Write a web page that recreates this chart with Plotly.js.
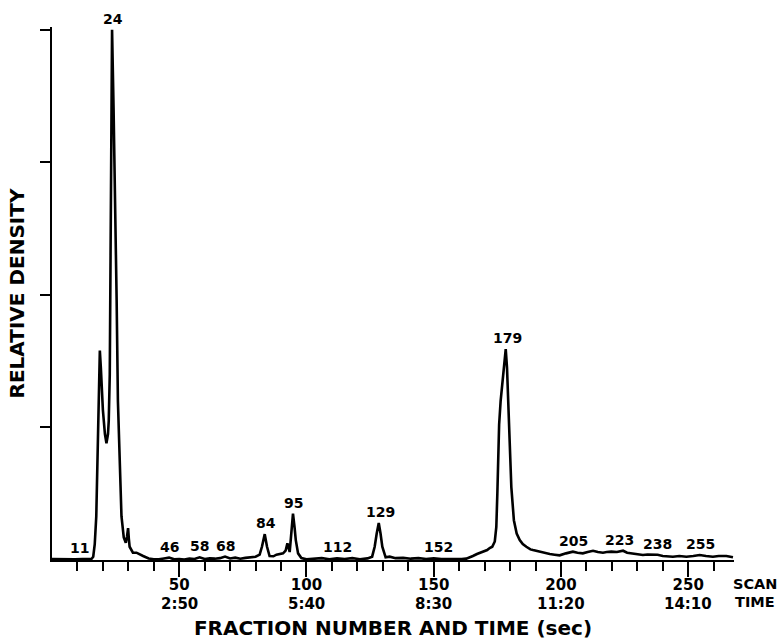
<!DOCTYPE html>
<html>
<head>
<meta charset="utf-8">
<script src="https://cdn.plot.ly/plotly-3.0.1.min.js"></script>
<style>
  html, body { margin: 0; padding: 0; background: #fff; }
  #chart { width: 782px; height: 640px; }
</style>
</head>
<body>
<div id="chart"></div>
<script>
// Scan (fraction) numbers along the trace
var scan = [0, 3, 6, 9, 12, 14, 15.5, 16.2, 16.8, 17.4, 18.1, 18.5, 18.8, 19.2, 20.0, 20.8, 21.4, 22.0, 22.3, 22.7, 23.0, 23.3, 23.6, 24.2, 24.9, 25.4, 25.9, 26.6, 27.3, 28.2, 29.0, 29.5, 29.9, 30.2, 30.5, 31.8, 33.2, 35.8, 38, 40,
  42, 44, 46, 48, 50, 52, 54, 56, 58, 60, 62, 64, 66, 68, 70, 72, 74, 76, 78.3, 80, 81.6, 82.5, 83.6, 84.5, 85.5, 87, 88.2, 90, 90.8, 91.8, 92.5, 93.4, 94.0, 94.7, 95.3, 95.8, 96.7, 98, 100,
  103, 106, 109, 112, 115, 118, 121, 124, 125.8, 126.8, 127.6, 128.4, 129.1, 129.8, 131.1, 132.7, 135, 138, 141, 144, 147, 150, 153, 156, 159, 161, 162.8, 164, 165.4, 167, 169.4, 171, 172, 173, 174, 174.6, 175, 175.7, 176.3, 177, 177.7, 178.3, 178.8, 179.2, 179.8, 180.5, 181.5, 182.6, 183.8, 185, 186.4, 188, 189, 191, 193, 195.6, 197.5, 199.5,
  202, 204.7, 206.5, 208.6, 210.5, 212.6, 214.5, 216.5, 218, 219.8, 222, 224.4, 226, 227.7, 230, 232.2, 234, 236.2, 238, 240, 242, 244, 246.5, 249.3, 252, 254.5, 257, 259.7, 262, 265, 267.6];

// Relative density
var density = [0.008, 0.006, 0.009, 0.005, 0.008, 0.006, 0.008, 0.025, 0.12, 0.33, 0.96, 1.40, 1.58, 1.45, 1.13, 0.95, 0.88, 0.95, 1.05, 1.4, 2.4, 3.2, 4.0, 3.4, 2.7, 1.96, 1.2, 0.70, 0.33, 0.17, 0.13, 0.18, 0.24, 0.16, 0.10, 0.055, 0.055, 0.03, 0.012, 0.006,
  0.005, 0.012, 0.018, 0.005, 0.008, 0.004, 0.01, 0.008, 0.02, 0.008, 0.012, 0.01, 0.014, 0.026, 0.012, 0.018, 0.01, 0.016, 0.02, 0.025, 0.04, 0.10, 0.195, 0.10, 0.03, 0.028, 0.04, 0.045, 0.05, 0.07, 0.125, 0.06, 0.2, 0.35, 0.25, 0.15, 0.05, 0.015, 0.005,
  0.01, 0.014, 0.006, 0.012, 0.008, 0.014, 0.006, 0.012, 0.025, 0.10, 0.2, 0.28, 0.2, 0.10, 0.02, 0.025, 0.014, 0.016, 0.01, 0.014, 0.008, 0.012, 0.008, 0.006, 0.005, 0.007, 0.01, 0.018, 0.03, 0.045, 0.065, 0.075, 0.09, 0.1, 0.14, 0.25, 0.5, 1.02, 1.2, 1.36, 1.5, 1.59, 1.45, 1.25, 0.93, 0.55, 0.3, 0.2, 0.15, 0.12, 0.1, 0.08, 0.075, 0.065, 0.058, 0.045, 0.04, 0.035,
  0.05, 0.063, 0.055, 0.05, 0.06, 0.07, 0.06, 0.055, 0.06, 0.063, 0.06, 0.07, 0.055, 0.05, 0.045, 0.038, 0.042, 0.038, 0.04, 0.03, 0.028, 0.025, 0.03, 0.025, 0.03, 0.038, 0.03, 0.025, 0.03, 0.03, 0.02];

// Labelled fractions
var peakLabels = [11, 24, 46, 58, 68, 84, 95, 112, 129, 152, 179, 205, 223, 238, 255];

// Axis ticks
var majorTicks = [50, 100, 150, 200, 250];
var majorTickText = ['50', '100', '150', '200', '250'];
var timeLabels = ['2:50', '5:40', '8:30', '11:20', '14:10'];
var densityTicks = [1, 2, 3, 4];

var minorTicks = [];
for (var t = 10; t <= 260; t += 10) { if (t % 50 !== 0) minorTicks.push(t); }

var FONT = 'DejaVu Sans';

function localMax(x) {
  var m = 0;
  for (var i = 0; i < scan.length; i++) {
    if (Math.abs(scan[i] - x) <= 2.5 && density[i] > m) m = density[i];
  }
  return m;
}

var annotations = [];
peakLabels.forEach(function (p) {
  annotations.push({
    x: p, y: localMax(p), xref: 'x', yref: 'y',
    text: String(p), showarrow: false, xanchor: 'center', yanchor: 'bottom', yshift: 1,
    font: {family: FONT, size: 14, color: '#000', weight: 'bold'}
  });
});
majorTicks.forEach(function (v, i) {
  annotations.push({
    x: v, y: 0, xref: 'x', yref: 'paper',
    text: timeLabels[i], showarrow: false, xanchor: 'center', yanchor: 'top', yshift: -33,
    font: {family: FONT, size: 15, color: '#000', weight: 'bold'}
  });
});
annotations.push({
  x: 1.031, y: 0, xref: 'paper', yref: 'paper', text: 'SCAN', showarrow: false,
  xanchor: 'center', yanchor: 'top', yshift: -14,
  font: {family: FONT, size: 14.5, color: '#000', weight: 'bold'}
});
annotations.push({
  x: 1.031, y: 0, xref: 'paper', yref: 'paper', text: 'TIME', showarrow: false,
  xanchor: 'center', yanchor: 'top', yshift: -32,
  font: {family: FONT, size: 14.5, color: '#000', weight: 'bold'}
});

var trace = {
  x: scan, y: density, type: 'scatter', mode: 'lines',
  line: {color: '#000', width: 2.6, shape: 'linear'},
  hoverinfo: 'x+y'
};

var layout = {
  width: 782, height: 640,
  margin: {l: 52, r: 48, t: 27, b: 80},
  paper_bgcolor: '#fff', plot_bgcolor: '#fff',
  showlegend: false,
  font: {family: FONT, color: '#000'},
  xaxis: {
    range: [0, 268], showgrid: false, zeroline: false,
    showline: true, linecolor: '#000', linewidth: 2,
    ticks: 'outside', ticklen: 15, tickwidth: 2, tickcolor: '#000',
    tickmode: 'array', tickvals: majorTicks, ticktext: majorTickText,
    ticklabelstandoff: -5,
    tickfont: {family: FONT, size: 15, color: '#000', weight: 'bold'},
    minor: {tickmode: 'array', tickvals: minorTicks, ticks: 'outside', ticklen: 9, tickwidth: 2, tickcolor: '#000', showgrid: false},
    title: {text: 'FRACTION NUMBER AND TIME (sec)', standoff: 31,
      font: {family: FONT, size: 20, color: '#000', weight: 'bold'}}
  },
  yaxis: {
    range: [0, 4.02], showgrid: false, zeroline: false,
    showline: true, linecolor: '#000', linewidth: 2,
    ticks: 'outside', ticklen: 10, tickwidth: 2, tickcolor: '#000',
    tickmode: 'array', tickvals: densityTicks, showticklabels: false,
    title: {text: 'RELATIVE DENSITY', standoff: 10,
      font: {family: FONT, size: 20, color: '#000', weight: 'bold'}}
  },
  annotations: annotations
};

Plotly.newPlot('chart', [trace], layout, {displayModeBar: false, staticPlot: true});
</script>
</body>
</html>
